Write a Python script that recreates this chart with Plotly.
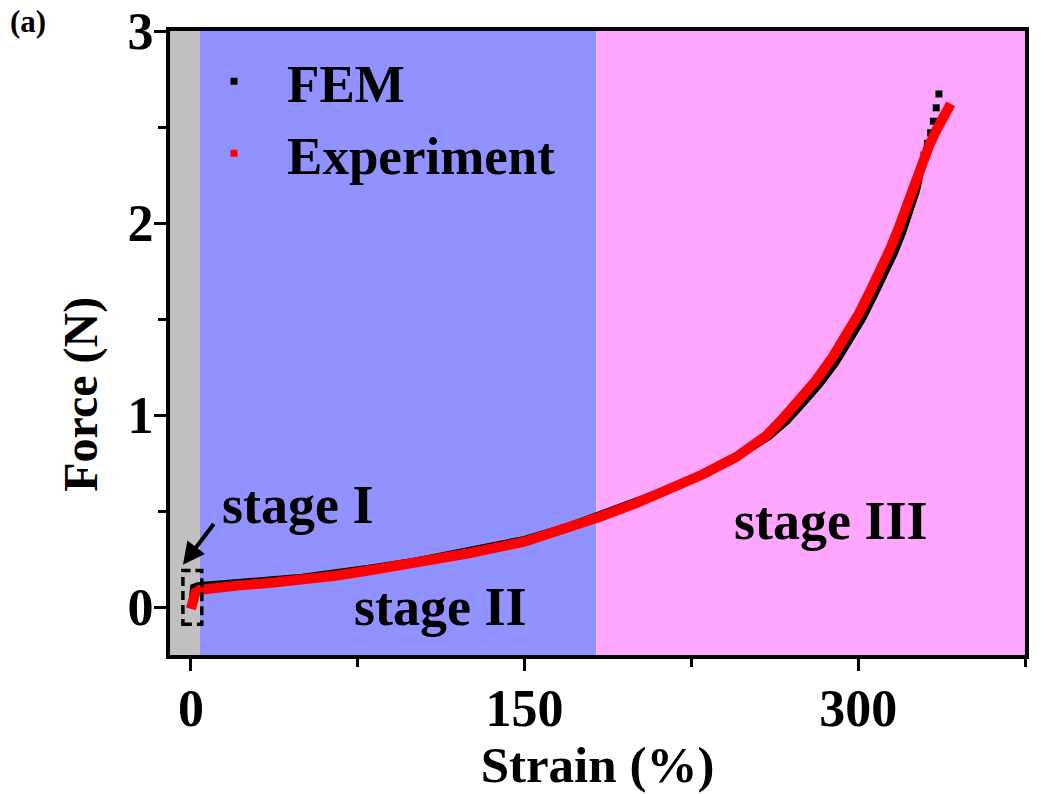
import plotly.graph_objects as go

# Force-strain response: FEM simulation vs experiment
fem_strain = [0, 0.3, 1, 3, 10, 20, 35, 50, 65, 80, 100, 125, 150, 170, 184, 200, 215, 230, 245,
              260, 268, 275.5, 283, 290.2, 296.2, 302.2, 307.4, 312.7, 316.4, 320.2, 323.8, 326.5,
              328.3, 329.6, 331.1, 332.6, 333.8, 335.1, 336.3]
fem_force = [0, 0.07, 0.105, 0.113, 0.118, 0.128, 0.143, 0.158, 0.18, 0.205, 0.24, 0.295, 0.355,
             0.425, 0.485, 0.55, 0.618, 0.69, 0.775, 0.885, 0.965, 1.06, 1.16, 1.27, 1.38, 1.50,
             1.62, 1.74, 1.84, 1.95, 2.07, 2.17, 2.27, 2.354, 2.415, 2.47, 2.53, 2.60, 2.672]

exp_strain = [0, 0.8, 2, 4, 10, 20, 35, 50, 65, 80, 100, 125, 150, 170, 184, 200, 215, 230, 245,
              258.5, 266, 273.5, 281, 288.4, 294.4, 300.4, 305.6, 310.9, 314.6, 318.4, 322, 325.9,
              329, 331.8, 335, 337.8, 341.6]
exp_force = [-0.01, 0.04, 0.075, 0.09, 0.10, 0.11, 0.125, 0.14, 0.163, 0.19, 0.225, 0.28, 0.34,
             0.41, 0.47, 0.54, 0.61, 0.69, 0.78, 0.89, 0.98, 1.08, 1.18, 1.30, 1.41, 1.53, 1.65,
             1.772, 1.87, 1.98, 2.10, 2.224, 2.32, 2.40, 2.48, 2.55, 2.62]

# stage boundaries (strain %)
stage_edges = [-9.4, 4.0, 182.3, 375]
stage_colors = ["#C0C0C0", "#9191FF", "#FFA6FF"]
stage_names = ["stage I", "stage II", "stage III"]

x_ticks = [0, 150, 300]
y_ticks = [0, 1, 2, 3]

FONT = "Liberation Serif"
SPARSE_FROM = 2.35  # above this force the FEM points are spaced out and drawn as squares

fig = go.Figure()

dense = [(s, f) for s, f in zip(fem_strain, fem_force) if f <= SPARSE_FROM + 0.01]
sparse = [(s, f) for s, f in zip(fem_strain, fem_force) if f >= SPARSE_FROM]

fig.add_trace(go.Scatter(
    x=[p[0] for p in dense], y=[p[1] for p in dense], mode="lines", showlegend=False,
    line=dict(color="black", width=6),
))
fig.add_trace(go.Scatter(
    x=[p[0] for p in sparse], y=[p[1] for p in sparse], mode="markers", showlegend=False,
    marker=dict(symbol="square", size=7, color="black", line=dict(width=0)),
))
fig.add_trace(go.Scatter(
    x=exp_strain, y=exp_force, mode="lines", showlegend=False,
    line=dict(color="#FF0000", width=10),
))
# legend entries
fig.add_trace(go.Scatter(x=[None], y=[None], mode="markers", name="FEM",
                         marker=dict(symbol="square", size=7, color="black")))
fig.add_trace(go.Scatter(x=[None], y=[None], mode="markers", name="Experiment",
                         marker=dict(symbol="square", size=7, color="#FF0000")))

for i, c in enumerate(stage_colors):
    fig.add_shape(type="rect", xref="x", yref="y", x0=stage_edges[i], x1=stage_edges[i + 1],
                  y0=-0.25, y1=3, fillcolor=c, line=dict(width=0), layer="below")

# dashed box around the initial region
fig.add_shape(type="rect", xref="x", yref="y", x0=-3.6, x1=4.9, y0=-0.09, y1=0.19,
              line=dict(color="black", width=3.5, dash="9px,5px"), layer="above")

lbl_font = dict(family=FONT, size=54, color="black", weight="bold")
fig.add_annotation(x=-3.6, y=0.22, ax=10.8, ay=0.44, xref="x", yref="y", axref="x", ayref="y",
                   text="", showarrow=True, arrowhead=2, arrowsize=1.1, arrowwidth=4,
                   arrowcolor="black")
fig.add_annotation(x=48, y=0.53, xref="x", yref="y", text=stage_names[0], showarrow=False,
                   font=lbl_font)
fig.add_annotation(x=112, y=0.0, xref="x", yref="y", text=stage_names[1], showarrow=False,
                   font=lbl_font)
fig.add_annotation(x=288, y=0.45, xref="x", yref="y", text=stage_names[2], showarrow=False,
                   font=lbl_font)
fig.add_annotation(x=-0.19, y=1.047, xref="paper", yref="paper", xanchor="left",
                   yanchor="top", text="(a)", showarrow=False,
                   font=dict(family=FONT, size=31, color="black", weight="bold"))
# y-axis title
fig.add_annotation(x=-0.104, y=0.417, xref="paper", yref="paper", xanchor="center",
                   yanchor="middle", text="Force (N)", textangle=-90, showarrow=False,
                   font=dict(family=FONT, size=48, color="black", weight="bold"))

axis_common = dict(
    showline=True, linewidth=4, linecolor="black", mirror=True,
    ticks="outside", ticklen=12, tickwidth=3, tickcolor="black",
    showgrid=False, zeroline=False, automargin=False,
    tickfont=dict(family=FONT, size=52, color="black", weight="bold"),
)

fig.update_xaxes(
    range=[-9.4, 375], tickvals=x_ticks, ticktext=[str(v) for v in x_ticks],
    minor=dict(tick0=0, dtick=75, ticks="outside", ticklen=8, tickwidth=3, tickcolor="black"),
    ticklabelstandoff=-7,
    title=dict(text="Strain (%)", font=dict(family=FONT, size=51, color="black", weight="bold"),
               standoff=6),
    **axis_common,
)
fig.update_yaxes(
    range=[-0.25, 3], tickvals=y_ticks, ticktext=[str(v) for v in y_ticks],
    minor=dict(tick0=0, dtick=0.5, ticks="outside", ticklen=8, tickwidth=3, tickcolor="black"),
    ticklabelstandoff=-10,
    **axis_common,
)

fig.update_layout(
    width=1048, height=794,
    margin=dict(l=170, r=23, t=31, b=139),
    paper_bgcolor="white", plot_bgcolor="white",
    legend=dict(x=0.0129, y=0.985, xanchor="left", yanchor="top", bgcolor="rgba(0,0,0,0)",
                font=dict(family=FONT, size=53, color="black", weight="bold"),
                itemwidth=96, tracegroupgap=0),
)

fig.write_html("out.html")
